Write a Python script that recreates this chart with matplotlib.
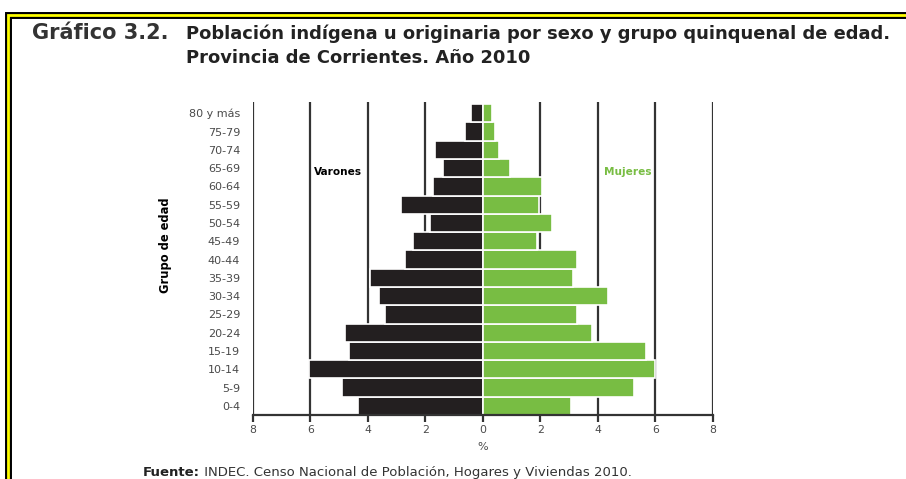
import matplotlib
matplotlib.use("Agg")
import matplotlib.pyplot as plt
from matplotlib.patches import Rectangle

# ---- data ----
age_groups = ["0-4", "5-9", "10-14", "15-19", "20-24", "25-29", "30-34", "35-39",
              "40-44", "45-49", "50-54", "55-59", "60-64", "65-69", "70-74",
              "75-79", "80 y más"]
varones = [4.34, 4.91, 6.03, 4.66, 4.79, 3.41, 3.62, 3.94,
           2.70, 2.43, 1.84, 2.83, 1.73, 1.40, 1.66, 0.61, 0.42]
mujeres = [3.06, 5.27, 5.99, 5.67, 3.78, 3.26, 4.36, 3.12,
           3.26, 1.88, 2.40, 1.95, 2.06, 0.96, 0.57, 0.43, 0.31]
xticks = [-8, -6, -4, -2, 0, 2, 4, 6, 8]
xtick_labels = ["8", "6", "4", "2", "0", "2", "4", "6", "8"]

title_num = "Gráfico 3.2."
title_l1 = "Población indígena u originaria por sexo y grupo quinquenal de edad."
title_l2 = "Provincia de Corrientes. Año 2010"
source_bold = "Fuente:"
source_text = " INDEC. Censo Nacional de Población, Hogares y Viviendas 2010."

male_color = "#231f20"
female_color = "#78bd43"
tick_color = "#4a4a4a"

plt.rcParams['font.family'] = ['DejaVu Sans']

W, H = 906, 479
fig = plt.figure(figsize=(W / 100, H / 100), dpi=100)

# frame
for lw, col in [(5.0, "black"), (2.0, "#ffff00")]:
    fig.patches.append(Rectangle((7.5 / W, -0.2), 1.2, 1 - 15 / H + 0.2,
                                 transform=fig.transFigure, fill=False,
                                 edgecolor=col, linewidth=lw, zorder=5))

ax = fig.add_axes([252.7 / W, 1 - 415 / H, 460.3 / W, 313.3 / H])
y = list(range(len(age_groups)))
neg_v = [-v for v in varones]
ax.barh(y, neg_v, height=1.0, color=male_color, edgecolor="white",
        linewidth=1.2, zorder=3)
ax.barh(y, mujeres, height=1.0, color=female_color, edgecolor="white",
        linewidth=1.2, zorder=3)

ax.set_xlim(-8, 8)
ax.set_ylim(-0.5, 16.63)
ax.set_xticks(xticks)
ax.set_xticklabels(xtick_labels)
ax.set_yticks(y)
ax.set_yticklabels(age_groups)
ax.grid(axis="x", color="#333333", linewidth=1.6, zorder=1)
ax.grid(axis="y", visible=False)
for gl, t in zip(ax.get_xgridlines(), xticks):
    if t == 0:
        gl.set_visible(False)
for s in ["top", "right", "left"]:
    ax.spines[s].set_visible(False)
ax.spines["bottom"].set_linewidth(1.6)
ax.spines["bottom"].set_color("#333333")
ax.spines["bottom"].set_zorder(4)
ax.tick_params(axis="y", length=0, pad=9, labelsize=8, labelcolor=tick_color)
ax.tick_params(axis="x", length=5, width=1.6, color="#333333", pad=2,
               labelsize=7.8, labelcolor=tick_color)
ax.set_xlabel("%", fontsize=8, color=tick_color, labelpad=5)
ax.set_ylabel("Grupo de edad", fontsize=8.3, fontweight="bold", color="black")
ax.yaxis.set_label_coords(-0.175, 0.543)

ax.text(-5.03, 12.78, "Varones", ha="center", va="center", fontsize=7.6,
        fontweight="bold", color="black", zorder=4)
ax.text(5.05, 12.78, "Mujeres", ha="center", va="center", fontsize=7.6,
        fontweight="bold", color=female_color, zorder=4)

# titles
fig.text(32 / W, 1 - 39.3 / H, title_num, fontsize=15, fontweight="bold",
         color="#333333", va="baseline", ha="left")
fig.text(186 / W, 1 - 39.3 / H, title_l1, fontsize=12.85, fontweight="bold",
         color="#222222", va="baseline", ha="left")
fig.text(186 / W, 1 - 62.7 / H, title_l2, fontsize=12.85, fontweight="bold",
         color="#222222", va="baseline", ha="left")

# source
fb = fig.text(143 / W, 1 - 476 / H, source_bold, fontsize=9.5, fontweight="bold",
              color="#222222", va="baseline", ha="left")
fig.canvas.draw()
bb = fb.get_window_extent(renderer=fig.canvas.get_renderer())
fig.text(bb.x1 / W, 1 - 476 / H, source_text, fontsize=9.5, color="#333333",
         va="baseline", ha="left")

fig.savefig("out.png", dpi=100)
